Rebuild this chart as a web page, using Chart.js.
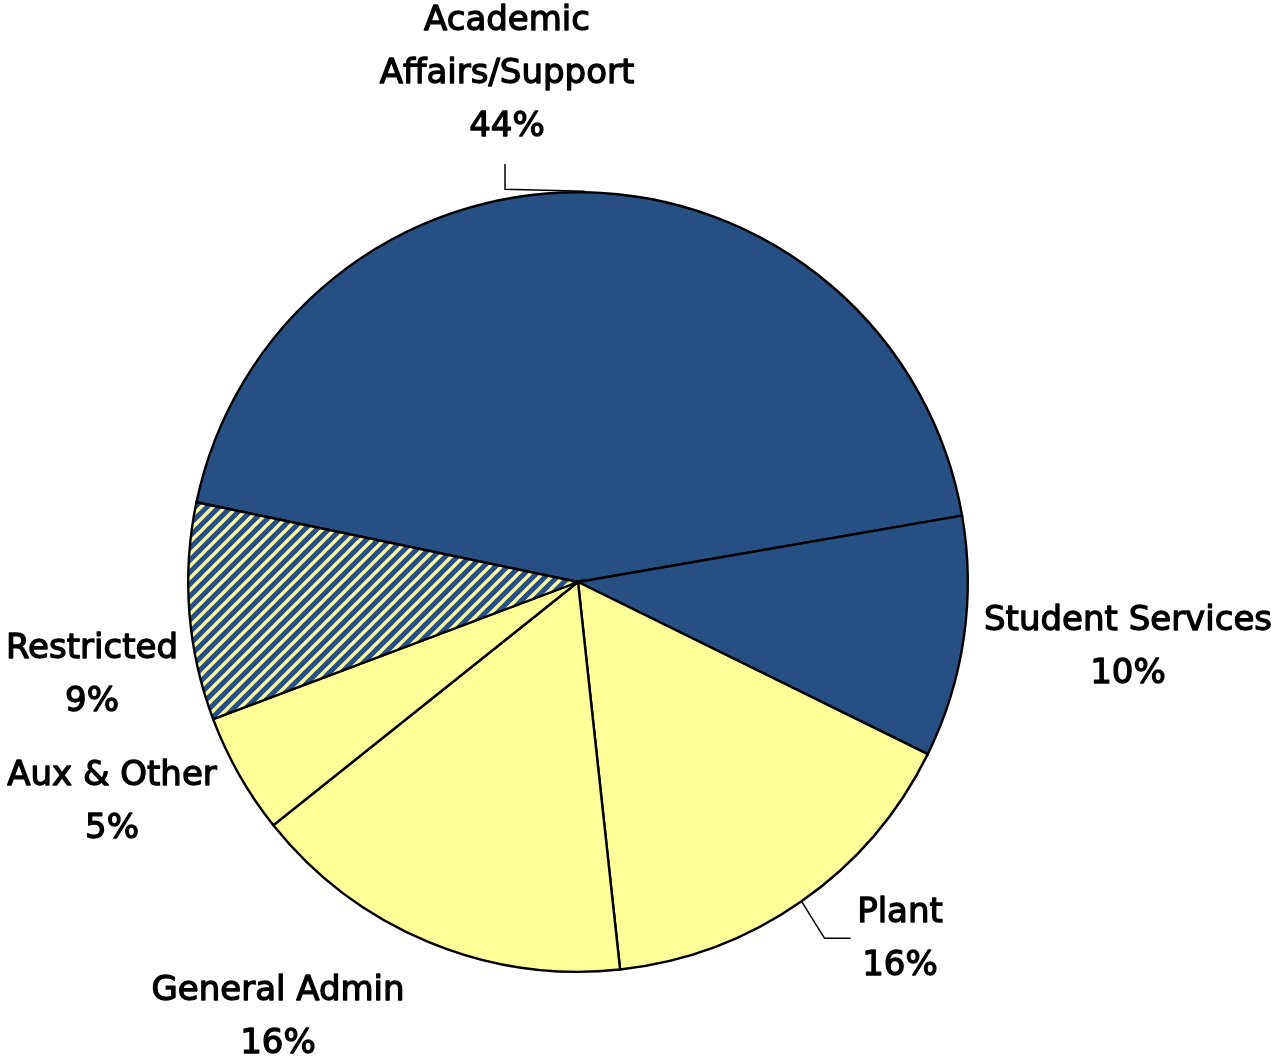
<!DOCTYPE html>
<html>
<head>
<meta charset="utf-8">
<script src="https://cdn.jsdelivr.net/npm/chart.js@4"></script>
<style>
  html, body { margin: 0; padding: 0; background: #fff; }
  #wrap { width: 1276px; height: 1058px; }
</style>
</head>
<body>
<div id="wrap"><canvas id="pie"></canvas></div>
<script>
// expense categories, in clockwise order from the top left
const categories = ["Academic\nAffairs/Support", "Student Services", "Plant", "General Admin", "Aux & Other", "Restricted"];
const shares = [44, 10, 16, 16, 5, 9];

const BLUE = "#284f84";
const YELLOW = "#ffff99";

// diagonal blue/yellow stripes for the restricted slice
function stripes() {
  const n = 12;
  const c = document.createElement("canvas");
  c.width = n; c.height = n;
  const g = c.getContext("2d");
  g.fillStyle = BLUE;
  g.fillRect(0, 0, n, n);
  g.strokeStyle = YELLOW;
  g.lineWidth = 3.4;
  g.beginPath();
  g.moveTo(-2, n + 2); g.lineTo(n + 2, -2);
  g.moveTo(-2, 2); g.lineTo(2, -2);
  g.moveTo(n - 2, n + 2); g.lineTo(n + 2, n - 2);
  g.stroke();
  return g.createPattern(c, "repeat");
}

const ctx = document.getElementById("pie").getContext("2d");
const fills = [BLUE, BLUE, YELLOW, YELLOW, YELLOW, stripes()];

// label centre (first line) relative to the pie centre, in px
const labelAt = [[-71, -561], [550, 39], [322, 331], [-300, 409], [-466, 194], [-486, 67]];
const LINE_H = 53;

const labelPlugin = {
  id: "sliceLabels",
  afterDatasetsDraw(chart) {
    const g = chart.ctx;
    const arcs = chart.getDatasetMeta(0).data;
    const cx = arcs[0].x, cy = arcs[0].y;
    const total = shares.reduce((a, b) => a + b, 0);
    g.save();
    g.fillStyle = "#000";
    g.strokeStyle = "#000";
    g.lineWidth = 1.3;
    g.lineJoin = "round";
    g.font = "34px 'DejaVu Sans'";
    g.textAlign = "center";
    g.textBaseline = "middle";
    categories.forEach((name, i) => {
      const [dx, dy] = labelAt[i];
      const lines = name.split("\n");
      lines.push(Math.round(shares[i] / total * 100) + "%");
      lines.forEach((t, k) => {
        g.fillText(t, cx + dx, cy + dy + k * LINE_H);
        g.strokeText(t, cx + dx, cy + dy + k * LINE_H);
      });
    });
    // leader lines for the two labels placed away from their slices
    g.lineWidth = 1.5;
    const mid = a => {
      const p = a.getProps(["startAngle", "endAngle", "outerRadius"], true);
      const ang = (p.startAngle + p.endAngle) / 2;
      return [cx + Math.cos(ang) * p.outerRadius, cy + Math.sin(ang) * p.outerRadius];
    };
    let [ax, ay] = mid(arcs[0]);
    g.beginPath();
    g.moveTo(cx - 73, cy - 418);
    g.lineTo(cx - 73, ay - 3);
    g.lineTo(ax, ay - 1);
    g.stroke();
    [ax, ay] = mid(arcs[2]);
    g.beginPath();
    g.moveTo(ax, ay);
    g.lineTo(ax + 23, ay + 37);
    g.lineTo(ax + 49, ay + 37);
    g.stroke();
    g.restore();
  }
};

new Chart(ctx, {
  type: "pie",
  data: {
    labels: categories,
    datasets: [{
      data: shares,
      backgroundColor: fills,
      borderColor: "#000",
      borderWidth: 2.4,
      borderJoinStyle: "miter"
    }]
  },
  options: {
    responsive: true,
    maintainAspectRatio: false,
    animation: false,
    rotation: -78.2,
    layout: { padding: { left: 187, right: 307, top: 191, bottom: 85 } },
    plugins: {
      legend: { display: false },
      tooltip: { enabled: false }
    }
  },
  plugins: [labelPlugin]
});
</script>
</body>
</html>
